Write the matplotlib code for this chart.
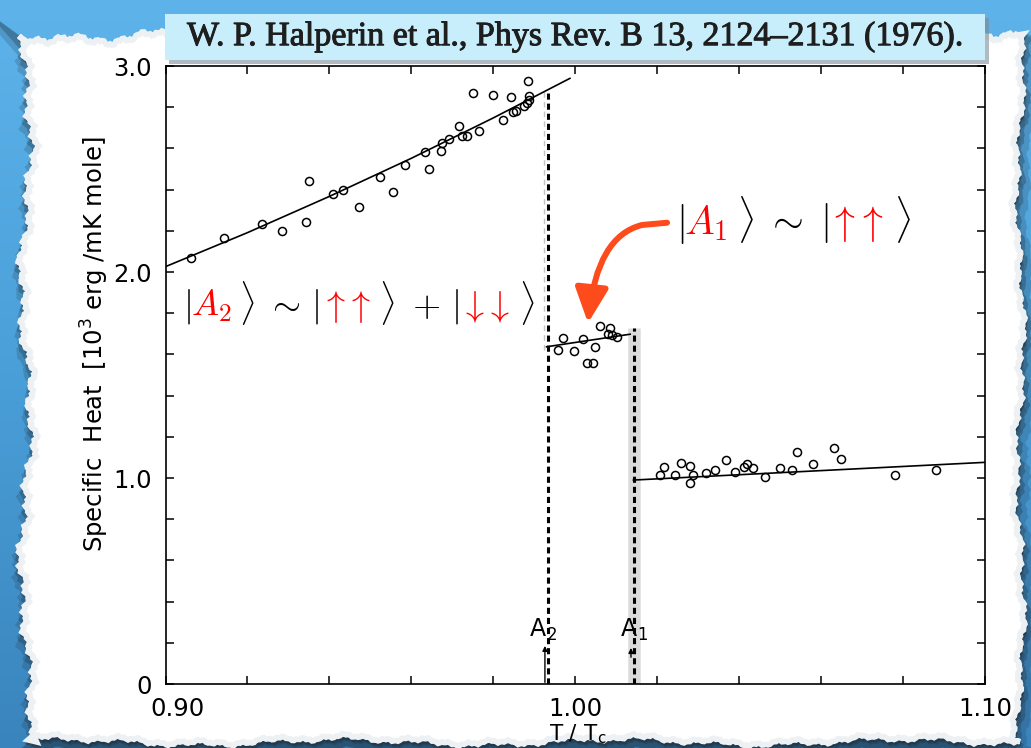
import numpy as np
import matplotlib
matplotlib.use("Agg")
import matplotlib.pyplot as plt
import matplotlib.patheffects as pe
from matplotlib.colors import LinearSegmentedColormap
from matplotlib.patches import Polygon, Rectangle, FancyArrowPatch
from matplotlib.path import Path
from matplotlib.transforms import ScaledTranslation

# A phase (below T_A2)
upper_T = [0.9062, 0.9143, 0.9235, 0.9284, 0.9343, 0.9351, 0.9408, 0.9432, 0.9473, 0.9524,
           0.9554, 0.9585, 0.9633, 0.9643, 0.9672, 0.9675, 0.9692, 0.9716, 0.9724, 0.9735,
           0.9751, 0.9765, 0.9800, 0.9823, 0.9843, 0.9847, 0.9856, 0.9875, 0.9882, 0.9886,
           0.9888, 0.9884]
upper_C = [2.067, 2.167, 2.233, 2.200, 2.244, 2.440, 2.377, 2.398, 2.316, 2.460,
           2.390, 2.519, 2.581, 2.500, 2.587, 2.628, 2.647, 2.710, 2.660, 2.660,
           2.870, 2.684, 2.858, 2.739, 2.851, 2.775, 2.782, 2.806, 2.819, 2.835,
           2.854, 2.929]
upper_fit_T = [0.900, 0.920, 0.940, 0.960, 0.980, 0.9987]
upper_fit_C = [2.026, 2.191, 2.367, 2.552, 2.748, 2.940]

# A1 phase (between T_A2 and T_A1)
mid_T = [0.9959, 0.9969, 0.9998, 1.0018, 1.0048, 1.0028, 1.0044, 1.0061, 1.0085, 1.0079,
         1.0089, 1.0101]
mid_C = [1.621, 1.681, 1.617, 1.675, 1.637, 1.557, 1.557, 1.738, 1.727, 1.698,
         1.694, 1.686]
mid_fit_T = [0.9930, 1.0134]
mid_fit_C = [1.637, 1.698]

# normal phase (above T_A1)
low_T = [1.0207, 1.0217, 1.0244, 1.0258, 1.0279, 1.0280, 1.0288, 1.0319, 1.0340, 1.0368,
         1.0390, 1.0412, 1.0420, 1.0433, 1.0462, 1.0500, 1.0530, 1.0541, 1.0580, 1.0631,
         1.0649, 1.0780, 1.0880]
low_C = [1.015, 1.055, 1.015, 1.071, 1.058, 0.977, 1.015, 1.026, 1.037, 1.087,
         1.028, 1.052, 1.066, 1.047, 1.003, 1.050, 1.039, 1.126, 1.068, 1.146,
         1.091, 1.015, 1.039]
low_fit_T = [1.0142, 1.100]
low_fit_C = [0.990, 1.076]

T_A2, C_A2_top = 0.9934, 2.88
T_A1, C_A1_top = 1.0143, 1.73

x_ticks = [0.90, 1.00, 1.10]
x_labels = ["0.90", "1.00", "1.10"]
y_ticks = [0, 1.0, 2.0, 3.0]
y_labels = ["0", "1.0", "2.0", "3.0"]

W, H = 1031, 748
RED = "#ff0000"
ORANGE = "#fd4b1c"

plt.rcParams["mathtext.fontset"] = "cm"
fig = plt.figure(figsize=(W / 100, H / 100), dpi=100)

# background: blue with torn paper
bg = fig.add_axes([0, 0, 1, 1])
bg.set_xlim(0, W)
bg.set_ylim(H, 0)
bg.axis("off")
blue = LinearSegmentedColormap.from_list("blue", ["#5db3ea", "#4a9fd8", "#3a84bd"])
bg.imshow(np.linspace(0, 1, 256).reshape(-1, 1), cmap=blue, extent=[0, W, H, 0], aspect="auto")


def rough(n, amp, ph):
    t = np.arange(n)
    return amp * (0.5 * np.sin(t * 0.045 + ph) + 0.3 * np.sin(t * 0.17 + 2 * ph)
                  + 0.2 * np.sin(t * 0.61 + 3 * ph) + 0.12 * np.sin(t * 1.9 + ph))


top_x = np.arange(26, 1020, 2)
top = np.c_[top_x, 36 + rough(len(top_x), 10, 0.3)]
right_y = np.arange(34, 742, 2)
right = np.c_[1018 + rough(len(right_y), 7, 1.1), right_y]
bot_x = np.arange(1020, 26, -2)
bottom = np.c_[bot_x, 740 + rough(len(bot_x), 6, 2.0)]
left_y = np.arange(742, 34, -2)
left = np.c_[28 + rough(len(left_y), 10, 0.7), left_y]
paper = np.vstack([top, right, bottom, left])

for k, a in [(12, 0.18), (7, 0.28), (3, 0.38)]:
    bg.add_patch(Polygon(paper + [k * 0.3, k], closed=True, fc="#1c2630", ec="#1c2630",
                         lw=k, alpha=a, zorder=2))
bg.add_patch(Polygon(paper, closed=True, fc="white", ec="#edf1f4", lw=4, zorder=3))

# title box
bg.add_patch(Rectangle((169, 18), 820, 46, fc="#7d8c96", ec="none", alpha=0.6, zorder=4))
bg.add_patch(Rectangle((165, 14), 820, 46, fc="#c8eefb", ec="none", zorder=5))
bg.text(575, 37, "W. P. Halperin et al., Phys Rev. B 13, 2124\u20132131 (1976).",
        family="Liberation Serif", fontsize=24.5, color="#1e1e1e", ha="center", va="center",
        zorder=6, path_effects=[pe.withStroke(linewidth=0.7, foreground="#1e1e1e")])

# main plot
ax = fig.add_axes([165.5 / W, (H - 684) / H, (985 - 165.5) / W, (684 - 66) / H])
ax.set_facecolor("none")
ax.set_xlim(0.90, 1.10)
ax.set_ylim(0, 3.0)

ax.plot([T_A1, T_A1], [0, C_A1_top], color="#9a9a9a", lw=9, alpha=0.35, solid_capstyle="butt")
ax.plot([T_A2 - 0.0010, T_A2 - 0.0010], [1.62, C_A2_top], color="#c4c4c4", lw=1.0,
        ls=(0, (4, 3)))
ax.plot([T_A2, T_A2], [0, C_A2_top], color="black", lw=2.2, ls=(0, (2.0, 1.3)))
ax.plot([T_A1, T_A1], [0, C_A1_top], color="black", lw=2.2, ls=(0, (2.0, 1.3)))

for ft, fc in [(upper_fit_T, upper_fit_C), (mid_fit_T, mid_fit_C), (low_fit_T, low_fit_C)]:
    ax.plot(ft, fc, color="black", lw=1.2)
for t, c in [(upper_T, upper_C), (mid_T, mid_C), (low_T, low_C)]:
    ax.plot(t, c, "o", ms=5.8, mfc="none", mec="black", mew=1.1)

ax.set_xticks(x_ticks)
ax.set_xticklabels(x_labels)
ax.set_xticks(np.arange(0.90, 1.1001, 0.02), minor=True)
ax.set_yticks(y_ticks)
ax.set_yticklabels(y_labels)
ax.set_yticks(np.arange(0, 3.001, 0.2), minor=True)
ax.tick_params(which="both", direction="in", top=True, right=True, length=6, width=1.1,
               labelsize=17.5, color="black")
ax.tick_params(axis="x", pad=9)
ax.tick_params(axis="y", pad=10)
for lab in ax.get_xticklabels()[:1]:
    lab.set_transform(lab.get_transform() + ScaledTranslation(0.12, 0, fig.dpi_scale_trans))
for sp in ax.spines.values():
    sp.set_linewidth(1.2)

# transition markers
ax.text(0.9888, 0.226, r"A$_\mathregular{2}$", fontsize=17, ha="left", va="baseline")
ax.text(1.0108, 0.226, r"A$_\mathregular{1}$", fontsize=17, ha="left", va="baseline")
ax.annotate("", xy=(0.9926, 0.185), xytext=(0.9926, 0.008),
            arrowprops=dict(arrowstyle="-|>", lw=1.0, color="black", mutation_scale=7,
                            shrinkA=0, shrinkB=0))
ax.annotate("", xy=(1.0136, 0.175), xytext=(1.0136, 0.13),
            arrowprops=dict(arrowstyle="-|>", lw=1.0, color="black", mutation_scale=7,
                            shrinkA=0, shrinkB=0))

# orange arrow towards the A1 branch
arrow_pts = [(1.02241, 2.2393), (1.01630, 2.2282), (1.00532, 2.1748), (1.00312, 1.7524)]
arrow_path = Path(arrow_pts, [Path.MOVETO, Path.LINETO, Path.CURVE3, Path.CURVE3])
ax.add_patch(FancyArrowPatch(path=arrow_path, arrowstyle="-|>,head_length=21,head_width=10",
                             color=ORANGE, lw=4.3, mutation_scale=1, transform=ax.transData,
                             clip_on=False, zorder=5))

# axis labels
fig.text(95 / W, 1 - 344 / H, r"Specific  Heat  [$\mathregular{10^3}$ erg /mK mole]",
         rotation=90, fontsize=17.5, ha="center", va="center")
fig.text(578 / W, 1 - 722 / H, r"T / T$_\mathregular{c}$", fontsize=15.5, ha="center", va="top")

# coloured state labels
renderer = fig.canvas.get_renderer()


def colored_math(x_px, base_px, pieces, size):
    for s, col in pieces:
        t = fig.text(x_px / W, 1 - base_px / H, s, color=col, fontsize=size,
                     ha="left", va="baseline")
        x_px += t.get_window_extent(renderer=renderer).width


colored_math(183, 316, [(r"$|\;$", "black"), (r"$A_2$", RED), (r"$\;\rangle\;\sim\,|\;$", "black"),
                        (r"$\uparrow\!\uparrow$", RED), (r"$\;\rangle\;+\,|\;$", "black"),
                        (r"$\downarrow\!\downarrow$", RED), (r"$\;\rangle$", "black")], 26)
colored_math(676, 234, [(r"$|\;$", "black"), (r"$A_1$", RED), (r"$\;\rangle\;\sim\;|\;$", "black"),
                        (r"$\uparrow\!\uparrow$", RED), (r"$\;\rangle$", "black")], 28.5)

fig.savefig("out.png", dpi=100)
